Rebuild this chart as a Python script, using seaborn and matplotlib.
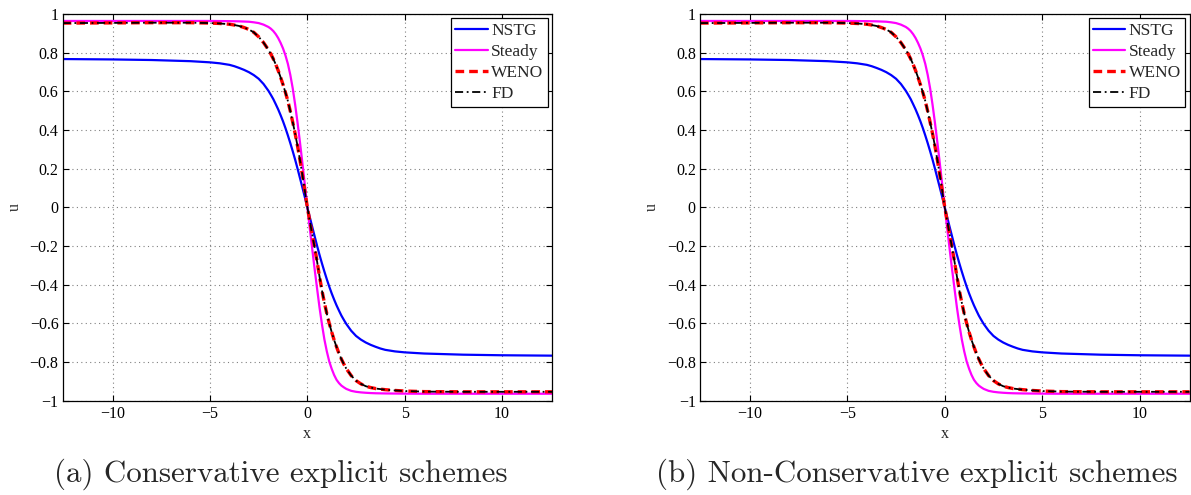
import matplotlib
matplotlib.use("Agg")
import matplotlib.pyplot as plt
from matplotlib.ticker import FixedLocator, FuncFormatter
import seaborn as sns

# Sample positions on the domain [-4*pi, 4*pi]
x_pts = [-12.566, -10, -8, -6, -5, -4.5, -4, -3.75, -3.5, -3.25, -3, -2.75,
         -2.5, -2.25, -2,
         -1.875, -1.75, -1.625, -1.5, -1.375, -1.25, -1.125, -1, -0.875, -0.75,
         -0.625, -0.5, -0.375, -0.25, -0.125,
         0,
         0.125, 0.25, 0.375, 0.5, 0.625, 0.75, 0.875, 1, 1.125, 1.25, 1.375, 1.5,
         1.625, 1.75, 1.875,
         2, 2.25, 2.5, 2.75, 3, 3.25, 3.5, 3.75, 4, 4.5, 5, 6, 8, 10, 12.566]

nstg_u = [0.767, 0.765, 0.762, 0.756, 0.750, 0.745, 0.737, 0.730, 0.721, 0.711,
          0.699, 0.684, 0.665, 0.638, 0.603,
          0.582, 0.560, 0.534, 0.507, 0.477, 0.445, 0.410, 0.372, 0.332, 0.290,
          0.246, 0.199, 0.150, 0.101, 0.051,
          0.0,
          -0.051, -0.101, -0.150, -0.199, -0.246, -0.290, -0.332, -0.372, -0.410,
          -0.445, -0.477, -0.507, -0.534, -0.560, -0.582,
          -0.603, -0.638, -0.665, -0.684, -0.699, -0.711, -0.721, -0.730, -0.737,
          -0.745, -0.750, -0.756, -0.762, -0.765, -0.767]

steady_u = [0.964, 0.964, 0.964, 0.964, 0.964, 0.9635, 0.963, 0.9625, 0.962,
            0.961, 0.960, 0.957, 0.953, 0.945, 0.933,
            0.924, 0.912, 0.896, 0.876, 0.851, 0.822, 0.786, 0.742, 0.685, 0.615,
            0.530, 0.435, 0.333, 0.225, 0.113,
            0.0,
            -0.108, -0.215, -0.320, -0.420, -0.518, -0.605, -0.683, -0.745, -0.797,
            -0.835, -0.867, -0.892, -0.909, -0.922, -0.931,
            -0.939, -0.949, -0.954, -0.957, -0.959, -0.9605, -0.9615, -0.962,
            -0.9625, -0.963, -0.9635, -0.964, -0.964, -0.964, -0.964]

weno_u = [0.953, 0.954, 0.955, 0.955, 0.953, 0.951, 0.947, 0.943, 0.938, 0.930,
          0.920, 0.905, 0.882, 0.852, 0.815,
          0.793, 0.768, 0.740, 0.708, 0.673, 0.635, 0.594, 0.550, 0.497, 0.440,
          0.380, 0.315, 0.242, 0.165, 0.083,
          0.0,
          -0.070, -0.140, -0.208, -0.280, -0.358, -0.430, -0.493, -0.550, -0.600,
          -0.645, -0.686, -0.722, -0.756, -0.785, -0.811,
          -0.834, -0.870, -0.896, -0.913, -0.925, -0.932, -0.937, -0.940, -0.943,
          -0.947, -0.950, -0.953, -0.954, -0.954, -0.954]

fd_u = [0.953, 0.954, 0.955, 0.955, 0.953, 0.951, 0.947, 0.943, 0.938, 0.930,
        0.920, 0.905, 0.882, 0.852, 0.815,
        0.793, 0.768, 0.740, 0.708, 0.673, 0.635, 0.594, 0.550, 0.497, 0.440,
        0.380, 0.315, 0.242, 0.165, 0.083,
        0.0,
        -0.070, -0.140, -0.208, -0.280, -0.358, -0.430, -0.493, -0.550, -0.600,
        -0.645, -0.686, -0.722, -0.756, -0.785, -0.811,
        -0.834, -0.870, -0.896, -0.913, -0.925, -0.932, -0.937, -0.940, -0.943,
        -0.947, -0.950, -0.953, -0.954, -0.954, -0.954]

series_names = ["NSTG", "Steady", "WENO", "FD"]
x_ticks = [-10, -5, 0, 5, 10]
y_ticks = [-1, -0.8, -0.6, -0.4, -0.2, 0, 0.2, 0.4, 0.6, 0.8, 1]
captions = ["(a) Conservative explicit schemes",
            "(b) Non-Conservative explicit schemes"]

sns.set_style("ticks")
plt.rcParams["font.family"] = ["Liberation Serif", "DejaVu Serif"]
plt.rcParams["axes.unicode_minus"] = True

W, H = 1191, 495
fig = plt.figure(figsize=(W / 100, H / 100), dpi=100)
ax_a = fig.add_axes([62.7 / W, 94.3 / H, 489.3 / W, 386.7 / H])
ax_b = fig.add_axes([700 / W, 94.3 / H, 489.5 / W, 386.7 / H])

styles = {
    "NSTG": dict(color="#0000ff", lw=1.6, dashes=None),
    "Steady": dict(color="#ff00ff", lw=1.6, dashes=None),
    "WENO": dict(color="#ff0000", lw=2.4, dashes=(2.6, 1.5)),
    "FD": dict(color="#000000", lw=1.3, dashes=(4.5, 2.0, 1.0, 2.0)),
}
values = {"NSTG": nstg_u, "Steady": steady_u, "WENO": weno_u, "FD": fd_u}


def fmt(v, _pos):
    return f"{v:g}".replace("-", "\u2212")


for ax, cap, cx in zip([ax_a, ax_b], captions, [281 / W, 916.5 / W]):
    for name in series_names:
        st = styles[name]
        sns.lineplot(x=x_pts, y=values[name], ax=ax, color=st["color"],
                     linewidth=st["lw"], label=name)
        line = ax.get_lines()[-1]
        line.set_solid_joinstyle("round")
        if st["dashes"] is not None:
            line.set_dashes(st["dashes"])

    ax.set_xlim(x_pts[0], x_pts[-1])
    ax.set_ylim(-1, 1)
    ax.xaxis.set_major_locator(FixedLocator(x_ticks))
    ax.yaxis.set_major_locator(FixedLocator(y_ticks))
    ax.xaxis.set_major_formatter(FuncFormatter(fmt))
    ax.yaxis.set_major_formatter(FuncFormatter(fmt))
    ax.grid(True, linestyle=(0, (1, 3)), color="#808080", linewidth=0.8)
    ax.tick_params(direction="in", top=True, right=True, length=4, width=0.8,
                   labelsize=11.5, colors="black")
    ax.tick_params(axis="x", pad=4)
    ax.tick_params(axis="y", pad=3)
    for sp in ax.spines.values():
        sp.set_visible(True)
        sp.set_color("black")
        sp.set_linewidth(0.9)
    ax.set_xlabel("x", fontsize=11.5, labelpad=3)
    ax.set_ylabel("u", fontsize=11.5)
    ax.yaxis.set_label_coords(-0.082, 0.5)

    leg = ax.legend(loc="upper right", fontsize=12.5, frameon=True, fancybox=False,
                    edgecolor="black", framealpha=1, handlelength=1.85,
                    handletextpad=0.2, labelspacing=0.29, borderpad=0.25,
                    borderaxespad=0.25)
    leg.get_frame().set_linewidth(0.9)

    fig.text(cx, 0.042, cap, ha="center", va="center", fontsize=22.3,
             family=["cmr10", "DejaVu Serif"])

fig.savefig("out.png", dpi=100)
